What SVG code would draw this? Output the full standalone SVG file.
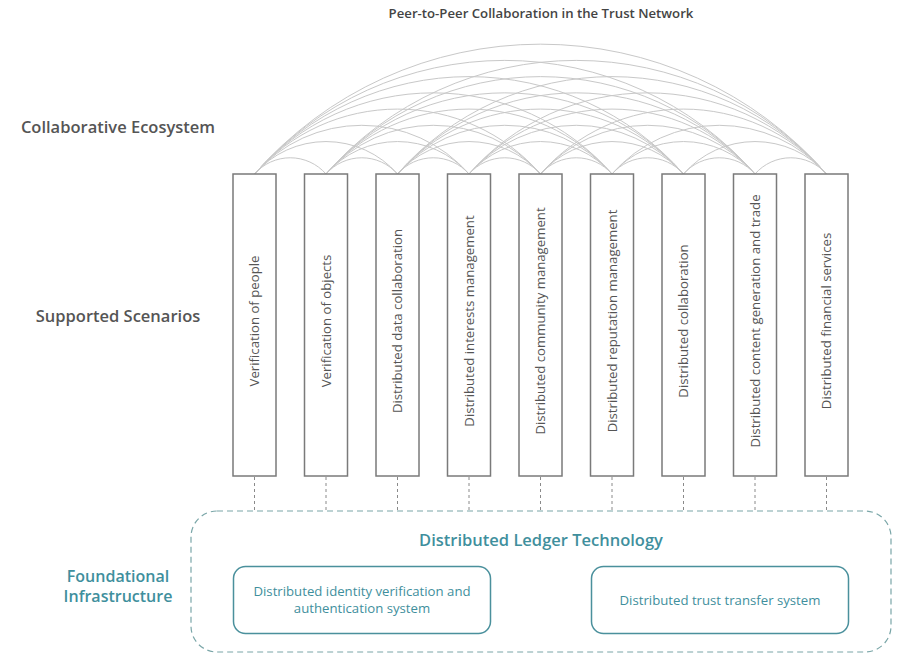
<svg xmlns="http://www.w3.org/2000/svg" width="900" height="658" viewBox="0 0 900 658">
<style>
.arc{fill:none;stroke:#c8c8c8;stroke-width:1}
.dash{fill:none;stroke:#8a8a8a;stroke-width:1;stroke-dasharray:3 3}
.box{fill:#fff;stroke:#7a7a7a;stroke-width:1.5}
.vt{font-family:"Open Sans","Noto Sans",sans-serif;font-size:13.2px;fill:#555;text-anchor:middle}
.lbl{font-family:"Open Sans","Noto Sans",sans-serif;font-size:16.5px;font-weight:600;fill:#555;text-anchor:middle}
.tl{font-family:"Open Sans","Noto Sans",sans-serif;font-size:16px;font-weight:600;fill:#3f8f9d;text-anchor:middle}
.ibox{fill:#fff;stroke:#4a909c;stroke-width:1.5}
.it{font-family:"Open Sans","Noto Sans",sans-serif;font-size:13.2px;fill:#3f8f9d;text-anchor:middle}
</style>
<rect width="900" height="658" fill="#fff"/>
<text x="541" y="18" font-family="Open Sans,Noto Sans,sans-serif" font-size="13.2" font-weight="600" fill="#444" text-anchor="middle">Peer-to-Peer Collaboration in the Trust Network</text>
<text class="lbl" x="118" y="133">Collaborative Ecosystem</text>
<text class="lbl" x="118" y="322">Supported Scenarios</text>
<text class="tl" x="118" y="582">Foundational</text>
<text class="tl" x="118" y="602">Infrastructure</text>
<g id="connectors">
<path class="arc" d="M254.5 174A47.49 47.49 0 0 1 326 174M326 174A47.49 47.49 0 0 1 397.5 174M397.5 174A47.49 47.49 0 0 1 469 174M469 174A47.49 47.49 0 0 1 540.5 174M540.5 174A47.49 47.49 0 0 1 612 174M612 174A47.49 47.49 0 0 1 683.5 174M683.5 174A47.49 47.49 0 0 1 755 174M755 174A47.49 47.49 0 0 1 826.5 174"/>
<path class="arc" d="M254.5 174A94.98 94.98 0 0 1 397.5 174M326 174A94.98 94.98 0 0 1 469 174M397.5 174A94.98 94.98 0 0 1 540.5 174M469 174A94.98 94.98 0 0 1 612 174M540.5 174A94.98 94.98 0 0 1 683.5 174M612 174A94.98 94.98 0 0 1 755 174M683.5 174A94.98 94.98 0 0 1 826.5 174"/>
<path class="arc" d="M254.5 174A142.47 142.47 0 0 1 469 174M326 174A142.47 142.47 0 0 1 540.5 174M397.5 174A142.47 142.47 0 0 1 612 174M469 174A142.47 142.47 0 0 1 683.5 174M540.5 174A142.47 142.47 0 0 1 755 174M612 174A142.47 142.47 0 0 1 826.5 174"/>
<path class="arc" d="M254.5 174A189.96 189.96 0 0 1 540.5 174M326 174A189.96 189.96 0 0 1 612 174M397.5 174A189.96 189.96 0 0 1 683.5 174M469 174A189.96 189.96 0 0 1 755 174M540.5 174A189.96 189.96 0 0 1 826.5 174"/>
<path class="arc" d="M254.5 174A237.45 237.45 0 0 1 612 174M326 174A237.45 237.45 0 0 1 683.5 174M397.5 174A237.45 237.45 0 0 1 755 174M469 174A237.45 237.45 0 0 1 826.5 174"/>
<path class="arc" d="M254.5 174A284.94 284.94 0 0 1 683.5 174M326 174A284.94 284.94 0 0 1 755 174M397.5 174A284.94 284.94 0 0 1 826.5 174"/>
<path class="arc" d="M254.5 174A332.43 332.43 0 0 1 755 174M326 174A332.43 332.43 0 0 1 826.5 174"/>
<path class="arc" d="M254.5 174A379.92 379.92 0 0 1 826.5 174"/>
<path class="dash" d="M254.5 477V511M326 477V511M397.5 477V511M469 477V511M540.5 477V511M612 477V511M683.5 477V511M755 477V511M826.5 477V511"/>
</g>
<g id="n1"><rect class="box" x="233" y="174" width="43" height="302"/><text class="vt" transform="translate(259 321) rotate(-90)">Verification of people</text></g>
<g id="n2"><rect class="box" x="304.5" y="174" width="43" height="302"/><text class="vt" transform="translate(330.5 321) rotate(-90)">Verification of objects</text></g>
<g id="n3"><rect class="box" x="376" y="174" width="43" height="302"/><text class="vt" transform="translate(402 321) rotate(-90)">Distributed data collaboration</text></g>
<g id="n4"><rect class="box" x="447.5" y="174" width="43" height="302"/><text class="vt" transform="translate(473.5 321) rotate(-90)">Distributed interests management</text></g>
<g id="n5"><rect class="box" x="519" y="174" width="43" height="302"/><text class="vt" transform="translate(545 321) rotate(-90)">Distributed community management</text></g>
<g id="n6"><rect class="box" x="590.5" y="174" width="43" height="302"/><text class="vt" transform="translate(616.5 321) rotate(-90)">Distributed reputation management</text></g>
<g id="n7"><rect class="box" x="662" y="174" width="43" height="302"/><text class="vt" transform="translate(688 321) rotate(-90)">Distributed collaboration</text></g>
<g id="n8"><rect class="box" x="733.5" y="174" width="43" height="302"/><text class="vt" transform="translate(759.5 321) rotate(-90)">Distributed content generation and trade</text></g>
<g id="n9"><rect class="box" x="805" y="174" width="43" height="302"/><text class="vt" transform="translate(831 321) rotate(-90)">Distributed financial services</text></g>
<g id="dlt">
<rect x="191" y="511" width="700" height="141" rx="26" fill="none" stroke="#7aa6a8" stroke-width="1.2" stroke-dasharray="6 4"/>
<text x="541" y="546" font-family="Open Sans,Noto Sans,sans-serif" font-size="16.5" font-weight="600" fill="#3f8f9d" text-anchor="middle">Distributed Ledger Technology</text>
</g>
<g id="identity"><rect class="ibox" x="233.5" y="566.5" width="257" height="67" rx="12"/><text class="it" x="362" y="596">Distributed identity verification and</text><text class="it" x="362" y="613">authentication system</text></g>
<g id="trust"><rect class="ibox" x="591.5" y="566.5" width="257" height="67" rx="12"/><text class="it" x="720" y="605">Distributed trust transfer system</text></g>
</svg>
